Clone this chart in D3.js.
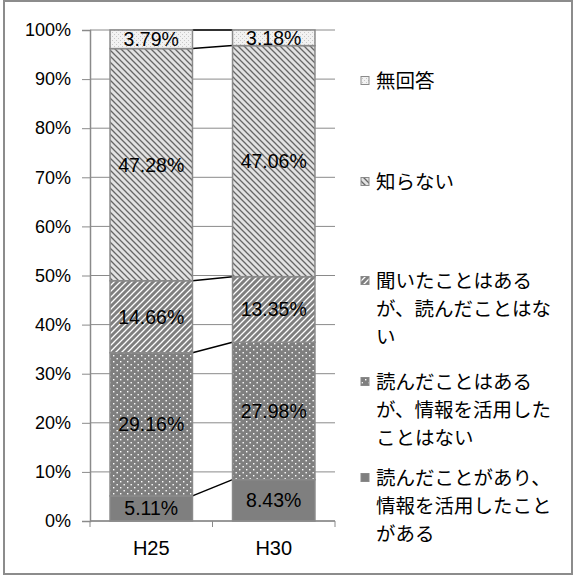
<!DOCTYPE html>
<html><head><meta charset="utf-8">
<script src="https://cdn.jsdelivr.net/npm/d3@7"></script>
<style>body{margin:0;background:#fff}svg{display:block}</style>
</head><body><svg id="c" width="574" height="576"></svg>
<script>
const categories = ["H25", "H30"];
const seriesNames = [
  "読んだことがあり、情報を活用したことがある",
  "読んだことはあるが、情報を活用したことはない",
  "聞いたことはあるが、読んだことはない",
  "知らない",
  "無回答"
];
const legendLines = [
  ["読んだことがあり、", "情報を活用したこと", "がある"],
  ["読んだことはある", "が、情報を活用した", "ことはない"],
  ["聞いたことはある", "が、読んだことはな", "い"],
  ["知らない"],
  ["無回答"]
];
const valuesH25 = [5.11, 29.16, 14.66, 47.28, 3.79];
const valuesH30 = [8.43, 27.98, 13.35, 47.06, 3.18];
const yTicks = [0, 10, 20, 30, 40, 50, 60, 70, 80, 90, 100];

const svg = d3.select("#c");
const defs = svg.append("defs");
const jp = "'Noto Sans CJK JP', sans-serif";
const lat = "'Liberation Sans', Arial, sans-serif";

function pat(id, w, h, bg, draw) {
  const p = defs.append("pattern").attr("id", id).attr("patternUnits", "userSpaceOnUse")
    .attr("width", w).attr("height", h);
  p.append("rect").attr("width", w).attr("height", h).attr("fill", bg);
  draw(p);
}
pat("p0", 6, 6, "#7f7f7f", p => {});
pat("p1", 7, 6, "#7f7f7f", p => {
  p.append("rect").attr("x", 1).attr("y", 1).attr("width", 1.4).attr("height", 1.4).attr("fill", "#fff");
  p.append("rect").attr("x", 4.5).attr("y", 4).attr("width", 1.4).attr("height", 1.4).attr("fill", "#fff");
});
pat("p2", 6, 6, "#7f7f7f", p => {
  p.append("path").attr("d", "M-1,7 L7,-1 M-4,4 L4,-4 M2,10 L10,2").attr("stroke", "#fff").attr("stroke-width", 1.3);
});
pat("p3", 6, 6, "#e2e2e2", p => {
  p.append("path").attr("d", "M-1,-1 L7,7 M-4,2 L4,10 M2,-4 L10,4").attr("stroke", "#666").attr("stroke-width", 1.3);
});
pat("p4", 4, 4, "#f2f2f2", p => {
  p.append("rect").attr("x", 0).attr("y", 0).attr("width", 1).attr("height", 1).attr("fill", "#c8c8c8");
  p.append("rect").attr("x", 2).attr("y", 2).attr("width", 1).attr("height", 1).attr("fill", "#c8c8c8");
});

svg.append("rect").attr("x", 4).attr("y", 1).attr("width", 568).attr("height", 573)
  .attr("fill", "none").attr("stroke", "#8c8c8c").attr("stroke-width", 2);

const y = d3.scaleLinear().domain([0, 100]).range([521, 30]);
const x = d3.scaleBand().domain(categories).range([90, 335]).paddingInner(0.327).paddingOuter(0.1635);

svg.append("g").selectAll("line").data(yTicks).join("line")
  .attr("x1", 90).attr("x2", 335).attr("y1", d => y(d)).attr("y2", d => y(d))
  .attr("stroke", "#8a8a8a").attr("stroke-width", 1);

const yAxis = svg.append("g").attr("transform", "translate(90,0)")
  .call(d3.axisLeft(y).tickValues(yTicks).tickSize(8).tickPadding(11).tickFormat(d => d + "%"));
yAxis.select(".domain").attr("stroke", "#8a8a8a").attr("stroke-width", 1.5);
yAxis.selectAll(".tick line").attr("stroke", "#8a8a8a").attr("stroke-width", 1);
yAxis.selectAll("text").attr("font-family", lat).attr("font-size", 18).attr("fill", "#000");

const rows = categories.map((c, i) => {
  const vals = i === 0 ? valuesH25 : valuesH30;
  const r = { cat: c };
  seriesNames.forEach((s, j) => r[s] = vals[j]);
  return r;
});
const stack = d3.stack().keys(seriesNames)(rows);

const g = svg.append("g");
stack.forEach((layer, j) => {
  g.append("line")
    .attr("x1", x("H25") + x.bandwidth()).attr("y1", y(layer[0][1]))
    .attr("x2", x("H30")).attr("y2", y(layer[1][1]))
    .attr("stroke", "#000").attr("stroke-width", 1.5);
});

stack.forEach((layer, j) => {
  svg.append("g").selectAll("rect").data(layer).join("rect")
    .attr("x", d => x(d.data.cat)).attr("width", x.bandwidth())
    .attr("y", d => y(d[1])).attr("height", d => y(d[0]) - y(d[1]))
    .attr("fill", `url(#p${j})`).attr("stroke", "#8a8a8a").attr("stroke-width", 1.5);
});
stack.forEach((layer, j) => {
  svg.append("g").selectAll("text").data(layer).join("text")
    .attr("x", d => x(d.data.cat) + x.bandwidth() / 2)
    .attr("y", d => (y(d[0]) + y(d[1])) / 2)
    .attr("dy", "0.36em").attr("text-anchor", "middle")
    .attr("font-family", lat).attr("font-size", 19.5).attr("fill", "#000")
    .text(d => (d[1] - d[0]).toFixed(2) + "%");
});

const xAxisG = svg.append("g");
xAxisG.append("line").attr("x1", 90).attr("x2", 335).attr("y1", y(0)).attr("y2", y(0))
  .attr("stroke", "#8a8a8a").attr("stroke-width", 1.5);
const bounds = [90, (x("H25") + x.bandwidth() + x("H30")) / 2, 335];
xAxisG.selectAll("line.t").data(bounds).join("line").attr("class", "t")
  .attr("x1", d => d).attr("x2", d => d).attr("y1", y(0)).attr("y2", y(0) + 6)
  .attr("stroke", "#8a8a8a").attr("stroke-width", 1);
xAxisG.selectAll("text").data(categories).join("text")
  .attr("x", d => x(d) + x.bandwidth() / 2).attr("y", 555)
  .attr("text-anchor", "middle").attr("font-family", lat).attr("font-size", 20).attr("fill", "#000")
  .text(d => d);

const legendY = [478, 382, 281, 182, 81];
const lg = svg.append("g");
seriesNames.forEach((s, j) => {
  const yy = legendY[j];
  lg.append("rect").attr("x", 361).attr("y", yy - 4.5).attr("width", 8).attr("height", 8)
    .attr("fill", `url(#p${j})`).attr("stroke", "#8a8a8a").attr("stroke-width", 1);
  legendLines[j].forEach((t, k) => {
    lg.append("text").attr("x", 376).attr("y", yy + k * 28).attr("dy", "0.36em")
      .attr("font-family", jp).attr("font-size", 19.5).attr("fill", "#000").text(t);
  });
});
</script></body></html>
